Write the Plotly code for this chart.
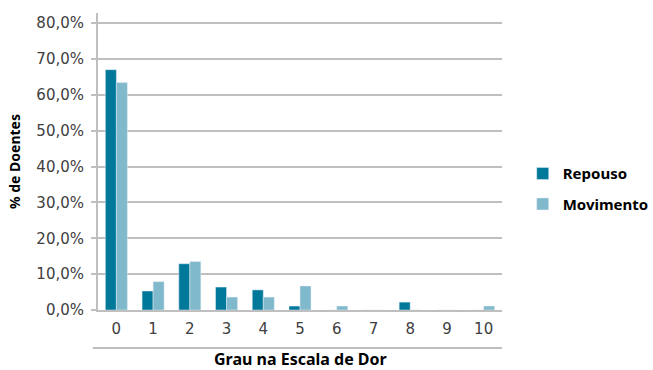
import plotly.graph_objects as go

categories = ["0", "1", "2", "3", "4", "5", "6", "7", "8", "9", "10"]
repouso = [67.0, 5.3, 12.9, 6.4, 5.6, 1.1, 0.0, 0.0, 2.2, 0.0, 0.0]
movimento = [63.4, 7.9, 13.5, 3.6, 3.6, 6.7, 1.1, 0.0, 0.0, 0.0, 1.1]
x_title = "Grau na Escala de Dor"
y_title = "% de Doentes"

FONT = "Noto Sans"
TICKFONT = "DejaVu Sans"
fig = go.Figure()
fig.add_trace(go.Bar(x=categories, y=repouso, name="Repouso",
                     marker_color="#00789A", legendgroup="a"))
fig.add_trace(go.Bar(x=categories, y=movimento, name="Movimento",
                     marker_color="#7FB9CB", legendgroup="b"))

fig.update_layout(
    width=653, height=370,
    margin=dict(l=98, r=151, t=13, b=60, autoexpand=False),
    plot_bgcolor="white", paper_bgcolor="white",
    barmode="group", bargap=0.4, bargroupgap=0,
    font=dict(family=FONT, size=15, color="#404040"),
    legend=dict(xref="container", yref="container",
                x=0.8005, y=0.49, xanchor="left", yanchor="middle",
                font=dict(family=FONT, size=15, color="#000000", weight="bold"),
                traceorder="grouped", tracegroupgap=8,
                itemwidth=30),
    xaxis=dict(
        type="category", automargin=False,
        showline=True, linecolor="#BFBFBF", linewidth=2,
        showgrid=False, ticks="", ticklabelstandoff=4,
        tickfont=dict(family=TICKFONT, size=15, color="#404040"),
    ),
    yaxis=dict(
        range=[0, 82.8], dtick=10, tick0=0, automargin=False,
        tickformat=".1f", ticksuffix="%",
        showline=True, linecolor="#BFBFBF", linewidth=2,
        showgrid=True, gridcolor="#BFBFBF", gridwidth=2,
        ticks="outside", ticklen=5, tickcolor="#BFBFBF", tickwidth=2,
        ticklabelstandoff=4,
        tickfont=dict(family=TICKFONT, size=15, color="#404040"),
        zeroline=False,
        title=dict(text="<b>" + y_title + "</b>",
                   font=dict(family=FONT, size=14, color="#000000"), standoff=12),
    ),
    separators=",.",
    annotations=[dict(text="<b>" + x_title + "</b>", xref="paper", yref="paper",
                      x=0.5, y=-0.164, xanchor="center", yanchor="middle",
                      showarrow=False, borderpad=0,
                      font=dict(family=FONT, size=16, color="#000000"))],
    shapes=[dict(type="line", xref="paper", yref="paper",
                 x0=-0.013, x1=1.0, y0=-0.128, y1=-0.128,
                 line=dict(color="#BFBFBF", width=2))],
)

fig.write_html("out.html")
